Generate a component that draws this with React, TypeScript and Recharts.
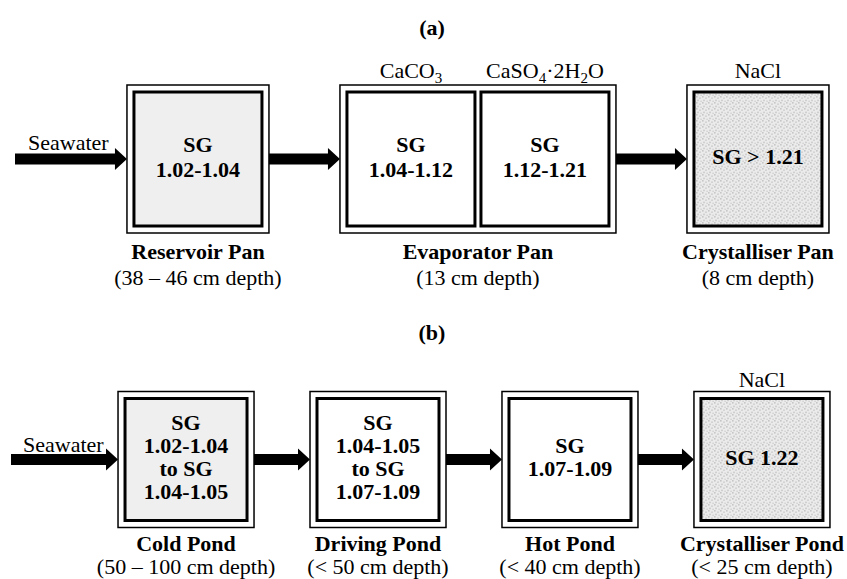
import React from 'react';
import { ScatterChart, Scatter, XAxis, YAxis } from 'recharts';

// (a) pans
const panTitle = '(a)';
const panStages = ['Reservoir Pan', 'Evaporator Pan', 'Crystalliser Pan'];
const panDepths = ['(38 – 46 cm depth)', '(13 cm depth)', '(8 cm depth)'];
const panCells = [
  [['SG', '1.02-1.04']],
  [['SG', '1.04-1.12'], ['SG', '1.12-1.21']],
  [['SG > 1.21']],
];
const panMinerals = [[], ['CaCO_3', 'CaSO_4·2H_2O'], ['NaCl']];

// (b) ponds
const pondTitle = '(b)';
const pondStages = ['Cold Pond', 'Driving Pond', 'Hot Pond', 'Crystalliser Pond'];
const pondDepths = ['(50 – 100 cm depth)', '(< 50 cm depth)', '(< 40 cm depth)', '(< 25 cm depth)'];
const pondCells = [
  [['SG', '1.02-1.04', 'to SG', '1.04-1.05']],
  [['SG', '1.04-1.05', 'to SG', '1.07-1.09']],
  [['SG', '1.07-1.09']],
  [['SG 1.22']],
];
const pondMinerals = [[], [], [], ['NaCl']];

const inletLabel = 'Seawater';

const W = 847;
const FONT = '"Liberation Serif", "Times New Roman", serif';
const FS = 22;

const cfgA = {
  height: 300, top: 18, domain: [-0.707, 2.318], cellW: 128, inset: 7, gap: 6, boxH: 148,
  lineH: 25, inletX: 15, inletLabelX: 28, inletDy: -9, mineralDy: -7, nameDy: 26, depthDy: 52, titleY: 35,
};
const cfgB = {
  height: 279, top: 40, domain: [-0.969, 3.443], cellW: 122, inset: 7, gap: 6, boxH: 136,
  lineH: 22.7, inletX: 11, inletLabelX: 23, inletDy: -8, mineralDy: -5, nameDy: 23, depthDy: 46, titleY: 40,
};

const boxWidth = (cfg, n) => 2 * cfg.inset + n * cfg.cellW + (n - 1) * cfg.gap;

function Formula({ text, x, y }) {
  const parts = text.split(/_(\d)/);
  return (
    <text x={x} y={y} textAnchor="middle" fontSize={FS} fontFamily={FONT} fill="#000">
      {parts.map((p, k) =>
        k % 2 ? (
          <tspan key={k} fontSize={15} dy={5}>{p}</tspan>
        ) : (
          <tspan key={k} dy={k ? -5 : 0}>{p}</tspan>
        )
      )}
    </text>
  );
}

function Stage(props) {
  const { cx, cy, payload, cfg } = props;
  if (cx == null || cy == null) return null;
  const spacing = W / (cfg.domain[1] - cfg.domain[0]);
  const n = payload.cells.length;
  const w = boxWidth(cfg, n);
  const h = cfg.boxH;
  const left = cx - w / 2;
  const top = cy - h / 2;
  const from = payload.step === 0 ? cfg.inletX : cx - spacing + boxWidth(cfg, payload.prevCells) / 2;
  const to = left;
  const T = 5.5, HL = 12, HH = 11;
  const arrow = `M${from},${cy - T} L${to - HL},${cy - T} L${to - HL},${cy - HH} L${to},${cy} L${to - HL},${cy + HH} L${to - HL},${cy + T} L${from},${cy + T} Z`;
  const fill = payload.step === 0 ? '#efefef' : payload.last ? 'url(#salt)' : '#ffffff';

  return (
    <g>
      <path d={arrow} fill="#000" />
      {payload.step === 0 && (
        <text x={cfg.inletLabelX} y={cy + cfg.inletDy} fontSize={FS} fontFamily={FONT} fill="#000">
          {inletLabel}
        </text>
      )}
      <rect x={left} y={top} width={w} height={h} fill="#fff" stroke="#000" strokeWidth={1.5} />
      {payload.cells.map((lines, j) => {
        const x = left + cfg.inset + j * (cfg.cellW + cfg.gap);
        const ccx = x + cfg.cellW / 2;
        const y0 = cy + 5 - ((lines.length - 1) * cfg.lineH) / 2;
        return (
          <g key={j}>
            <rect x={x} y={top + cfg.inset} width={cfg.cellW} height={h - 2 * cfg.inset} fill={fill} stroke="#000" strokeWidth={3} />
            {lines.map((t, k) => (
              <text key={k} x={ccx} y={y0 + k * cfg.lineH} textAnchor="middle" fontSize={FS} fontWeight="bold" fontFamily={FONT} fill="#000">
                {t}
              </text>
            ))}
            {payload.minerals[j] && <Formula text={payload.minerals[j]} x={ccx} y={top + cfg.mineralDy} />}
          </g>
        );
      })}
      <text x={cx} y={top + h + cfg.nameDy} textAnchor="middle" fontSize={FS} fontWeight="bold" fontFamily={FONT} fill="#000">
        {payload.name}
      </text>
      <text x={cx} y={top + h + cfg.depthDy} textAnchor="middle" fontSize={FS} fontFamily={FONT} fill="#000">
        {payload.depth}
      </text>
    </g>
  );
}

function FlowPanel({ cfg, title, stages, depths, cells, minerals }) {
  const data = stages.map((name, i) => ({
    step: i,
    level: 0,
    name,
    depth: depths[i],
    cells: cells[i],
    minerals: minerals[i],
    prevCells: i > 0 ? cells[i - 1].length : 0,
    last: i === stages.length - 1,
  }));
  return (
    <ScatterChart width={W} height={cfg.height} margin={{ top: cfg.top, right: 0, bottom: 0, left: 0 }}>
      <defs>
        <pattern id="salt" width="6" height="6" patternUnits="userSpaceOnUse">
          <rect width="6" height="6" fill="#ebebeb" />
          <rect x="0" y="0" width="1.6" height="1.6" fill="#c6c6c6" />
          <rect x="3.2" y="1.4" width="1.6" height="1.6" fill="#cdcdcd" />
          <rect x="1.2" y="3.6" width="1.6" height="1.6" fill="#c9c9c9" />
          <rect x="4.4" y="4.6" width="1.4" height="1.4" fill="#d0d0d0" />
        </pattern>
      </defs>
      <XAxis type="number" dataKey="step" domain={cfg.domain} hide allowDataOverflow />
      <YAxis type="number" dataKey="level" domain={[-1, 1]} hide allowDataOverflow />
      <text x={432} y={cfg.titleY} textAnchor="middle" fontSize={FS} fontWeight="bold" fontFamily={FONT} fill="#000">
        {title}
      </text>
      <Scatter data={data} isAnimationActive={false} shape={(p) => <Stage {...p} cfg={cfg} />} />
    </ScatterChart>
  );
}

export default function App() {
  return (
    <div style={{ position: 'absolute', left: 0, top: 0, width: W, height: 579, background: '#fff' }}>
      <FlowPanel cfg={cfgA} title={panTitle} stages={panStages} depths={panDepths} cells={panCells} minerals={panMinerals} />
      <FlowPanel cfg={cfgB} title={pondTitle} stages={pondStages} depths={pondDepths} cells={pondCells} minerals={pondMinerals} />
    </div>
  );
}
